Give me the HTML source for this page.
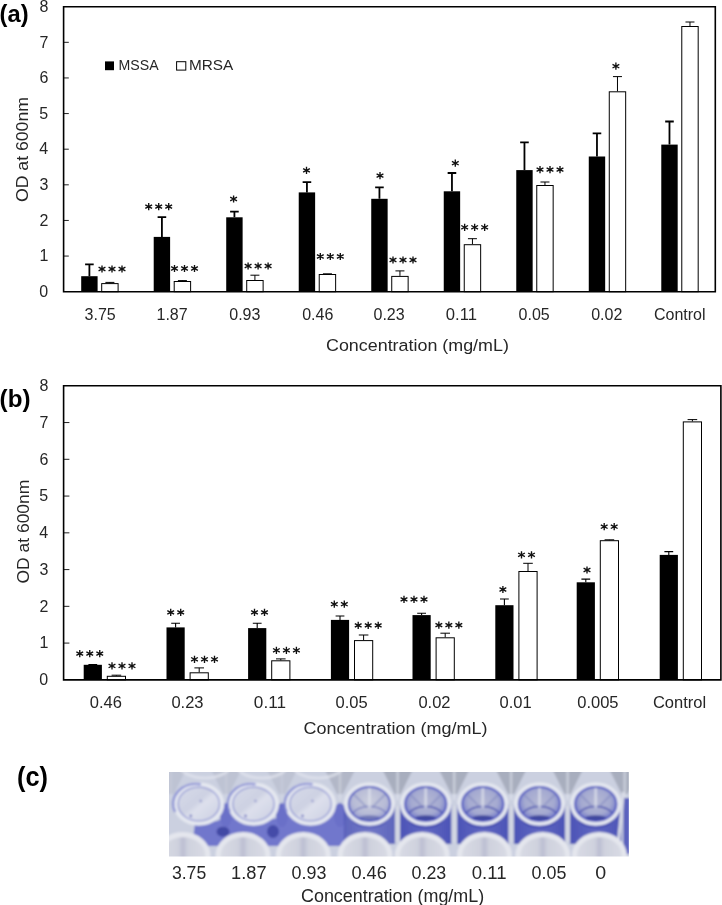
<!DOCTYPE html>
<html><head><meta charset="utf-8"><style>
html,body{margin:0;padding:0;background:#fff;}
svg{display:block;will-change:transform;}
text{font-family:"Liberation Sans",sans-serif;}
</style></head><body>
<svg width="722" height="905" viewBox="0 0 722 905">
<rect x="0" y="0" width="722" height="905" fill="#fff"/>
<rect x="81.20" y="276.20" width="16.40" height="15.50" fill="#000"/>
<path d="M89.40 276.20V264.40M85.10 264.40H93.70" stroke="#000" stroke-width="1.8" fill="none"/>
<rect x="101.70" y="283.60" width="16.40" height="8.10" fill="#fff" stroke="#000" stroke-width="1.0"/>
<path d="M109.90 283.10V282.40M105.40 282.40H114.40" stroke="#000" stroke-width="1.0" fill="none"/>
<rect x="153.71" y="236.90" width="16.40" height="54.80" fill="#000"/>
<path d="M161.91 236.90V217.20M157.61 217.20H166.21" stroke="#000" stroke-width="1.8" fill="none"/>
<rect x="174.21" y="281.50" width="16.40" height="10.20" fill="#fff" stroke="#000" stroke-width="1.0"/>
<path d="M182.41 281.00V280.60M177.91 280.60H186.91" stroke="#000" stroke-width="1.0" fill="none"/>
<rect x="226.22" y="217.30" width="16.40" height="74.40" fill="#000"/>
<path d="M234.42 217.30V211.60M230.12 211.60H238.72" stroke="#000" stroke-width="1.8" fill="none"/>
<rect x="246.72" y="280.50" width="16.40" height="11.20" fill="#fff" stroke="#000" stroke-width="1.0"/>
<path d="M254.92 280.00V275.20M250.42 275.20H259.42" stroke="#000" stroke-width="1.0" fill="none"/>
<rect x="298.73" y="192.40" width="16.40" height="99.30" fill="#000"/>
<path d="M306.93 192.40V182.20M302.63 182.20H311.23" stroke="#000" stroke-width="1.8" fill="none"/>
<rect x="319.23" y="274.50" width="16.40" height="17.20" fill="#fff" stroke="#000" stroke-width="1.0"/>
<path d="M322.93 273.80H331.93" stroke="#000" stroke-width="1.0" fill="none"/>
<rect x="371.24" y="198.80" width="16.40" height="92.90" fill="#000"/>
<path d="M379.44 198.80V187.40M375.14 187.40H383.74" stroke="#000" stroke-width="1.8" fill="none"/>
<rect x="391.74" y="276.40" width="16.40" height="15.30" fill="#fff" stroke="#000" stroke-width="1.0"/>
<path d="M399.94 275.90V270.90M395.44 270.90H404.44" stroke="#000" stroke-width="1.0" fill="none"/>
<rect x="443.75" y="191.30" width="16.40" height="100.40" fill="#000"/>
<path d="M451.95 191.30V173.00M447.65 173.00H456.25" stroke="#000" stroke-width="1.8" fill="none"/>
<rect x="464.25" y="244.70" width="16.40" height="47.00" fill="#fff" stroke="#000" stroke-width="1.0"/>
<path d="M472.45 244.20V238.70M467.95 238.70H476.95" stroke="#000" stroke-width="1.0" fill="none"/>
<rect x="516.26" y="170.10" width="16.40" height="121.60" fill="#000"/>
<path d="M524.46 170.10V142.30M520.16 142.30H528.76" stroke="#000" stroke-width="1.8" fill="none"/>
<rect x="536.76" y="185.50" width="16.40" height="106.20" fill="#fff" stroke="#000" stroke-width="1.0"/>
<path d="M544.96 185.00V182.00M540.46 182.00H549.46" stroke="#000" stroke-width="1.0" fill="none"/>
<rect x="588.77" y="156.50" width="16.40" height="135.20" fill="#000"/>
<path d="M596.97 156.50V133.40M592.67 133.40H601.27" stroke="#000" stroke-width="1.8" fill="none"/>
<rect x="609.27" y="91.80" width="16.40" height="199.90" fill="#fff" stroke="#000" stroke-width="1.0"/>
<path d="M617.47 91.30V76.60M612.97 76.60H621.97" stroke="#000" stroke-width="1.0" fill="none"/>
<rect x="661.28" y="144.60" width="16.40" height="147.10" fill="#000"/>
<path d="M669.48 144.60V121.50M665.18 121.50H673.78" stroke="#000" stroke-width="1.8" fill="none"/>
<rect x="681.78" y="26.50" width="16.40" height="265.20" fill="#fff" stroke="#000" stroke-width="1.0"/>
<path d="M689.98 26.00V22.00M685.48 22.00H694.48" stroke="#000" stroke-width="1.0" fill="none"/>
<path d="M63.60 256.07H68.80" stroke="#222" stroke-width="1" fill="none"/>
<path d="M63.60 220.45H68.80" stroke="#222" stroke-width="1" fill="none"/>
<path d="M63.60 184.82H68.80" stroke="#222" stroke-width="1" fill="none"/>
<path d="M63.60 149.20H68.80" stroke="#222" stroke-width="1" fill="none"/>
<path d="M63.60 113.57H68.80" stroke="#222" stroke-width="1" fill="none"/>
<path d="M63.60 77.95H68.80" stroke="#222" stroke-width="1" fill="none"/>
<path d="M63.60 42.32H68.80" stroke="#222" stroke-width="1" fill="none"/>
<path d="M63.60 291.70V6.70H715.30V291.70Z" stroke="#000" stroke-width="1.6" fill="none" stroke-linejoin="miter"/>
<path d="M102.00 265.42V272.58M98.60 267.19L105.40 270.81M98.60 270.81L105.40 267.19" stroke="#111" stroke-width="1.35" fill="none"/>
<path d="M112.00 265.42V272.58M108.60 267.19L115.40 270.81M108.60 270.81L115.40 267.19" stroke="#111" stroke-width="1.35" fill="none"/>
<path d="M122.00 265.42V272.58M118.60 267.19L125.40 270.81M118.60 270.81L125.40 267.19" stroke="#111" stroke-width="1.35" fill="none"/>
<path d="M148.70 203.02V210.18M145.30 204.79L152.10 208.41M145.30 208.41L152.10 204.79" stroke="#111" stroke-width="1.35" fill="none"/>
<path d="M158.70 203.02V210.18M155.30 204.79L162.10 208.41M155.30 208.41L162.10 204.79" stroke="#111" stroke-width="1.35" fill="none"/>
<path d="M168.70 203.02V210.18M165.30 204.79L172.10 208.41M165.30 208.41L172.10 204.79" stroke="#111" stroke-width="1.35" fill="none"/>
<path d="M174.50 264.92V272.08M171.10 266.69L177.90 270.31M171.10 270.31L177.90 266.69" stroke="#111" stroke-width="1.35" fill="none"/>
<path d="M184.50 264.92V272.08M181.10 266.69L187.90 270.31M181.10 270.31L187.90 266.69" stroke="#111" stroke-width="1.35" fill="none"/>
<path d="M194.50 264.92V272.08M191.10 266.69L197.90 270.31M191.10 270.31L197.90 266.69" stroke="#111" stroke-width="1.35" fill="none"/>
<path d="M233.60 195.42V202.58M230.20 197.19L237.00 200.81M230.20 200.81L237.00 197.19" stroke="#111" stroke-width="1.35" fill="none"/>
<path d="M248.10 262.42V269.58M244.70 264.19L251.50 267.81M244.70 267.81L251.50 264.19" stroke="#111" stroke-width="1.35" fill="none"/>
<path d="M258.10 262.42V269.58M254.70 264.19L261.50 267.81M254.70 267.81L261.50 264.19" stroke="#111" stroke-width="1.35" fill="none"/>
<path d="M268.10 262.42V269.58M264.70 264.19L271.50 267.81M264.70 267.81L271.50 264.19" stroke="#111" stroke-width="1.35" fill="none"/>
<path d="M306.50 166.82V173.98M303.10 168.59L309.90 172.21M303.10 172.21L309.90 168.59" stroke="#111" stroke-width="1.35" fill="none"/>
<path d="M320.30 252.92V260.08M316.90 254.69L323.70 258.31M316.90 258.31L323.70 254.69" stroke="#111" stroke-width="1.35" fill="none"/>
<path d="M330.30 252.92V260.08M326.90 254.69L333.70 258.31M326.90 258.31L333.70 254.69" stroke="#111" stroke-width="1.35" fill="none"/>
<path d="M340.30 252.92V260.08M336.90 254.69L343.70 258.31M336.90 258.31L343.70 254.69" stroke="#111" stroke-width="1.35" fill="none"/>
<path d="M380.00 172.02V179.18M376.60 173.79L383.40 177.41M376.60 177.41L383.40 173.79" stroke="#111" stroke-width="1.35" fill="none"/>
<path d="M393.00 256.42V263.58M389.60 258.19L396.40 261.81M389.60 261.81L396.40 258.19" stroke="#111" stroke-width="1.35" fill="none"/>
<path d="M403.00 256.42V263.58M399.60 258.19L406.40 261.81M399.60 261.81L406.40 258.19" stroke="#111" stroke-width="1.35" fill="none"/>
<path d="M413.00 256.42V263.58M409.60 258.19L416.40 261.81M409.60 261.81L416.40 258.19" stroke="#111" stroke-width="1.35" fill="none"/>
<path d="M455.30 159.62V166.78M451.90 161.39L458.70 165.01M451.90 165.01L458.70 161.39" stroke="#111" stroke-width="1.35" fill="none"/>
<path d="M464.65 223.72V230.88M461.25 225.49L468.05 229.11M461.25 229.11L468.05 225.49" stroke="#111" stroke-width="1.35" fill="none"/>
<path d="M474.65 223.72V230.88M471.25 225.49L478.05 229.11M471.25 229.11L478.05 225.49" stroke="#111" stroke-width="1.35" fill="none"/>
<path d="M484.65 223.72V230.88M481.25 225.49L488.05 229.11M481.25 229.11L488.05 225.49" stroke="#111" stroke-width="1.35" fill="none"/>
<path d="M540.00 166.02V173.18M536.60 167.79L543.40 171.41M536.60 171.41L543.40 167.79" stroke="#111" stroke-width="1.35" fill="none"/>
<path d="M550.00 166.02V173.18M546.60 167.79L553.40 171.41M546.60 171.41L553.40 167.79" stroke="#111" stroke-width="1.35" fill="none"/>
<path d="M560.00 166.02V173.18M556.60 167.79L563.40 171.41M556.60 171.41L563.40 167.79" stroke="#111" stroke-width="1.35" fill="none"/>
<path d="M615.90 62.62V69.78M612.50 64.39L619.30 68.01M612.50 68.01L619.30 64.39" stroke="#111" stroke-width="1.35" fill="none"/>
<text x="39.33" y="296.90" font-size="16.00" font-weight="normal" fill="#262626" textLength="8.90" lengthAdjust="spacingAndGlyphs" >0</text>
<text x="39.48" y="261.27" font-size="16.00" font-weight="normal" fill="#262626" textLength="8.90" lengthAdjust="spacingAndGlyphs" >1</text>
<text x="39.51" y="225.65" font-size="16.00" font-weight="normal" fill="#262626" textLength="8.90" lengthAdjust="spacingAndGlyphs" >2</text>
<text x="39.40" y="190.02" font-size="16.00" font-weight="normal" fill="#262626" textLength="8.90" lengthAdjust="spacingAndGlyphs" >3</text>
<text x="39.17" y="154.40" font-size="16.00" font-weight="normal" fill="#262626" textLength="8.90" lengthAdjust="spacingAndGlyphs" >4</text>
<text x="39.37" y="118.77" font-size="16.00" font-weight="normal" fill="#262626" textLength="8.90" lengthAdjust="spacingAndGlyphs" >5</text>
<text x="39.40" y="83.15" font-size="16.00" font-weight="normal" fill="#262626" textLength="8.90" lengthAdjust="spacingAndGlyphs" >6</text>
<text x="39.51" y="47.52" font-size="16.00" font-weight="normal" fill="#262626" textLength="8.90" lengthAdjust="spacingAndGlyphs" >7</text>
<text x="39.40" y="11.90" font-size="16.00" font-weight="normal" fill="#262626" textLength="8.90" lengthAdjust="spacingAndGlyphs" >8</text>
<text x="84.61" y="319.70" font-size="16.00" font-weight="normal" fill="#262626" textLength="31.14" lengthAdjust="spacingAndGlyphs" >3.75</text>
<text x="156.52" y="319.70" font-size="16.00" font-weight="normal" fill="#262626" textLength="31.14" lengthAdjust="spacingAndGlyphs" >1.87</text>
<text x="229.27" y="319.70" font-size="16.00" font-weight="normal" fill="#262626" textLength="31.14" lengthAdjust="spacingAndGlyphs" >0.93</text>
<text x="302.22" y="319.70" font-size="16.00" font-weight="normal" fill="#262626" textLength="31.14" lengthAdjust="spacingAndGlyphs" >0.46</text>
<text x="373.52" y="319.70" font-size="16.00" font-weight="normal" fill="#262626" textLength="31.14" lengthAdjust="spacingAndGlyphs" >0.23</text>
<text x="445.86" y="319.70" font-size="16.00" font-weight="normal" fill="#262626" textLength="31.14" lengthAdjust="spacingAndGlyphs" >0.11</text>
<text x="518.60" y="319.70" font-size="16.00" font-weight="normal" fill="#262626" textLength="31.14" lengthAdjust="spacingAndGlyphs" >0.05</text>
<text x="591.22" y="319.70" font-size="16.00" font-weight="normal" fill="#262626" textLength="31.14" lengthAdjust="spacingAndGlyphs" >0.02</text>
<text x="653.94" y="319.70" font-size="16.00" font-weight="normal" fill="#262626" textLength="51.58" lengthAdjust="spacingAndGlyphs" >Control</text>
<rect x="83.70" y="664.80" width="18.20" height="15.05" fill="#000"/>
<path d="M92.80 664.80V664.60M88.40 664.60H97.20" stroke="#000" stroke-width="1.1" fill="none"/>
<rect x="107.30" y="676.30" width="18.20" height="3.55" fill="#fff" stroke="#000" stroke-width="1.0"/>
<path d="M116.40 675.80V675.20M111.60 675.20H121.20" stroke="#000" stroke-width="1.0" fill="none"/>
<rect x="166.50" y="627.40" width="18.20" height="52.45" fill="#000"/>
<path d="M175.60 627.40V623.20M171.20 623.20H180.00" stroke="#000" stroke-width="1.1" fill="none"/>
<rect x="190.10" y="672.80" width="18.20" height="7.05" fill="#fff" stroke="#000" stroke-width="1.0"/>
<path d="M199.20 672.30V667.90M194.40 667.90H204.00" stroke="#000" stroke-width="1.0" fill="none"/>
<rect x="248.10" y="628.10" width="18.20" height="51.75" fill="#000"/>
<path d="M257.20 628.10V623.20M252.80 623.20H261.60" stroke="#000" stroke-width="1.1" fill="none"/>
<rect x="271.70" y="660.80" width="18.20" height="19.05" fill="#fff" stroke="#000" stroke-width="1.0"/>
<path d="M280.80 660.30V658.90M276.00 658.90H285.60" stroke="#000" stroke-width="1.0" fill="none"/>
<rect x="330.90" y="619.90" width="18.20" height="59.95" fill="#000"/>
<path d="M340.00 619.90V616.00M335.60 616.00H344.40" stroke="#000" stroke-width="1.1" fill="none"/>
<rect x="354.50" y="640.60" width="18.20" height="39.25" fill="#fff" stroke="#000" stroke-width="1.0"/>
<path d="M363.60 640.10V635.00M358.80 635.00H368.40" stroke="#000" stroke-width="1.0" fill="none"/>
<rect x="412.50" y="615.10" width="18.20" height="64.75" fill="#000"/>
<path d="M421.60 615.10V613.20M417.20 613.20H426.00" stroke="#000" stroke-width="1.1" fill="none"/>
<rect x="436.10" y="637.80" width="18.20" height="42.05" fill="#fff" stroke="#000" stroke-width="1.0"/>
<path d="M445.20 637.30V633.20M440.40 633.20H450.00" stroke="#000" stroke-width="1.0" fill="none"/>
<rect x="495.30" y="605.20" width="18.20" height="74.65" fill="#000"/>
<path d="M504.40 605.20V599.00M500.00 599.00H508.80" stroke="#000" stroke-width="1.1" fill="none"/>
<rect x="518.90" y="571.50" width="18.20" height="108.35" fill="#fff" stroke="#000" stroke-width="1.0"/>
<path d="M528.00 571.00V563.30M523.20 563.30H532.80" stroke="#000" stroke-width="1.0" fill="none"/>
<rect x="576.70" y="582.30" width="18.20" height="97.55" fill="#000"/>
<path d="M585.80 582.30V579.10M581.40 579.10H590.20" stroke="#000" stroke-width="1.1" fill="none"/>
<rect x="600.30" y="540.70" width="18.20" height="139.15" fill="#fff" stroke="#000" stroke-width="1.0"/>
<path d="M609.40 540.20V539.80M604.60 539.80H614.20" stroke="#000" stroke-width="1.0" fill="none"/>
<rect x="659.70" y="554.90" width="18.20" height="124.95" fill="#000"/>
<path d="M668.80 554.90V551.60M664.40 551.60H673.20" stroke="#000" stroke-width="1.1" fill="none"/>
<rect x="683.30" y="421.90" width="18.20" height="257.95" fill="#fff" stroke="#000" stroke-width="1.0"/>
<path d="M692.40 421.40V419.60M687.60 419.60H697.20" stroke="#000" stroke-width="1.0" fill="none"/>
<path d="M63.60 643.09H69.40" stroke="#222" stroke-width="1" fill="none"/>
<path d="M63.60 606.34H69.40" stroke="#222" stroke-width="1" fill="none"/>
<path d="M63.60 569.58H69.40" stroke="#222" stroke-width="1" fill="none"/>
<path d="M63.60 532.83H69.40" stroke="#222" stroke-width="1" fill="none"/>
<path d="M63.60 496.07H69.40" stroke="#222" stroke-width="1" fill="none"/>
<path d="M63.60 459.31H69.40" stroke="#222" stroke-width="1" fill="none"/>
<path d="M63.60 422.56H69.40" stroke="#222" stroke-width="1" fill="none"/>
<path d="M63.60 679.85V385.80H720.90V679.85Z" stroke="#000" stroke-width="1.6" fill="none" stroke-linejoin="miter"/>
<path d="M79.75 650.02V657.18M76.35 651.79L83.15 655.41M76.35 655.41L83.15 651.79" stroke="#111" stroke-width="1.35" fill="none"/>
<path d="M89.75 650.02V657.18M86.35 651.79L93.15 655.41M86.35 655.41L93.15 651.79" stroke="#111" stroke-width="1.35" fill="none"/>
<path d="M99.75 650.02V657.18M96.35 651.79L103.15 655.41M96.35 655.41L103.15 651.79" stroke="#111" stroke-width="1.35" fill="none"/>
<path d="M112.00 662.37V669.53M108.60 664.14L115.40 667.76M108.60 667.76L115.40 664.14" stroke="#111" stroke-width="1.35" fill="none"/>
<path d="M122.00 662.37V669.53M118.60 664.14L125.40 667.76M118.60 667.76L125.40 664.14" stroke="#111" stroke-width="1.35" fill="none"/>
<path d="M132.00 662.37V669.53M128.60 664.14L135.40 667.76M128.60 667.76L135.40 664.14" stroke="#111" stroke-width="1.35" fill="none"/>
<path d="M170.70 608.82V615.98M167.30 610.59L174.10 614.21M167.30 614.21L174.10 610.59" stroke="#111" stroke-width="1.35" fill="none"/>
<path d="M180.70 608.82V615.98M177.30 610.59L184.10 614.21M177.30 614.21L184.10 610.59" stroke="#111" stroke-width="1.35" fill="none"/>
<path d="M194.50 655.72V662.88M191.10 657.49L197.90 661.11M191.10 661.11L197.90 657.49" stroke="#111" stroke-width="1.35" fill="none"/>
<path d="M204.50 655.72V662.88M201.10 657.49L207.90 661.11M201.10 661.11L207.90 657.49" stroke="#111" stroke-width="1.35" fill="none"/>
<path d="M214.50 655.72V662.88M211.10 657.49L217.90 661.11M211.10 661.11L217.90 657.49" stroke="#111" stroke-width="1.35" fill="none"/>
<path d="M254.50 608.82V615.98M251.10 610.59L257.90 614.21M251.10 614.21L257.90 610.59" stroke="#111" stroke-width="1.35" fill="none"/>
<path d="M264.50 608.82V615.98M261.10 610.59L267.90 614.21M261.10 614.21L267.90 610.59" stroke="#111" stroke-width="1.35" fill="none"/>
<path d="M276.40 646.72V653.88M273.00 648.49L279.80 652.11M273.00 652.11L279.80 648.49" stroke="#111" stroke-width="1.35" fill="none"/>
<path d="M286.40 646.72V653.88M283.00 648.49L289.80 652.11M283.00 652.11L289.80 648.49" stroke="#111" stroke-width="1.35" fill="none"/>
<path d="M296.40 646.72V653.88M293.00 648.49L299.80 652.11M293.00 652.11L299.80 648.49" stroke="#111" stroke-width="1.35" fill="none"/>
<path d="M334.30 600.62V607.78M330.90 602.39L337.70 606.01M330.90 606.01L337.70 602.39" stroke="#111" stroke-width="1.35" fill="none"/>
<path d="M344.30 600.62V607.78M340.90 602.39L347.70 606.01M340.90 606.01L347.70 602.39" stroke="#111" stroke-width="1.35" fill="none"/>
<path d="M358.20 621.82V628.98M354.80 623.59L361.60 627.21M354.80 627.21L361.60 623.59" stroke="#111" stroke-width="1.35" fill="none"/>
<path d="M368.20 621.82V628.98M364.80 623.59L371.60 627.21M364.80 627.21L371.60 623.59" stroke="#111" stroke-width="1.35" fill="none"/>
<path d="M378.20 621.82V628.98M374.80 623.59L381.60 627.21M374.80 627.21L381.60 623.59" stroke="#111" stroke-width="1.35" fill="none"/>
<path d="M404.00 595.82V602.98M400.60 597.59L407.40 601.21M400.60 601.21L407.40 597.59" stroke="#111" stroke-width="1.35" fill="none"/>
<path d="M414.00 595.82V602.98M410.60 597.59L417.40 601.21M410.60 601.21L417.40 597.59" stroke="#111" stroke-width="1.35" fill="none"/>
<path d="M424.00 595.82V602.98M420.60 597.59L427.40 601.21M420.60 601.21L427.40 597.59" stroke="#111" stroke-width="1.35" fill="none"/>
<path d="M438.85 621.52V628.68M435.45 623.29L442.25 626.91M435.45 626.91L442.25 623.29" stroke="#111" stroke-width="1.35" fill="none"/>
<path d="M448.85 621.52V628.68M445.45 623.29L452.25 626.91M445.45 626.91L452.25 623.29" stroke="#111" stroke-width="1.35" fill="none"/>
<path d="M458.85 621.52V628.68M455.45 623.29L462.25 626.91M455.45 626.91L462.25 623.29" stroke="#111" stroke-width="1.35" fill="none"/>
<path d="M502.90 585.92V593.08M499.50 587.69L506.30 591.31M499.50 591.31L506.30 587.69" stroke="#111" stroke-width="1.35" fill="none"/>
<path d="M521.50 551.22V558.38M518.10 552.99L524.90 556.61M518.10 556.61L524.90 552.99" stroke="#111" stroke-width="1.35" fill="none"/>
<path d="M531.50 551.22V558.38M528.10 552.99L534.90 556.61M528.10 556.61L534.90 552.99" stroke="#111" stroke-width="1.35" fill="none"/>
<path d="M587.00 566.42V573.58M583.60 568.19L590.40 571.81M583.60 571.81L590.40 568.19" stroke="#111" stroke-width="1.35" fill="none"/>
<path d="M604.20 523.12V530.28M600.80 524.89L607.60 528.51M600.80 528.51L607.60 524.89" stroke="#111" stroke-width="1.35" fill="none"/>
<path d="M614.20 523.12V530.28M610.80 524.89L617.60 528.51M610.80 528.51L617.60 524.89" stroke="#111" stroke-width="1.35" fill="none"/>
<text x="39.33" y="685.05" font-size="16.00" font-weight="normal" fill="#262626" textLength="8.90" lengthAdjust="spacingAndGlyphs" >0</text>
<text x="39.48" y="648.29" font-size="16.00" font-weight="normal" fill="#262626" textLength="8.90" lengthAdjust="spacingAndGlyphs" >1</text>
<text x="39.51" y="611.54" font-size="16.00" font-weight="normal" fill="#262626" textLength="8.90" lengthAdjust="spacingAndGlyphs" >2</text>
<text x="39.40" y="574.78" font-size="16.00" font-weight="normal" fill="#262626" textLength="8.90" lengthAdjust="spacingAndGlyphs" >3</text>
<text x="39.17" y="538.03" font-size="16.00" font-weight="normal" fill="#262626" textLength="8.90" lengthAdjust="spacingAndGlyphs" >4</text>
<text x="39.37" y="501.27" font-size="16.00" font-weight="normal" fill="#262626" textLength="8.90" lengthAdjust="spacingAndGlyphs" >5</text>
<text x="39.40" y="464.51" font-size="16.00" font-weight="normal" fill="#262626" textLength="8.90" lengthAdjust="spacingAndGlyphs" >6</text>
<text x="39.51" y="427.76" font-size="16.00" font-weight="normal" fill="#262626" textLength="8.90" lengthAdjust="spacingAndGlyphs" >7</text>
<text x="39.40" y="391.00" font-size="16.00" font-weight="normal" fill="#262626" textLength="8.90" lengthAdjust="spacingAndGlyphs" >8</text>
<text x="89.73" y="708.00" font-size="16.50" font-weight="normal" fill="#262626" textLength="32.11" lengthAdjust="spacingAndGlyphs" >0.46</text>
<text x="171.38" y="708.00" font-size="16.50" font-weight="normal" fill="#262626" textLength="32.11" lengthAdjust="spacingAndGlyphs" >0.23</text>
<text x="253.87" y="708.00" font-size="16.50" font-weight="normal" fill="#262626" textLength="32.11" lengthAdjust="spacingAndGlyphs" >0.11</text>
<text x="335.62" y="708.00" font-size="16.50" font-weight="normal" fill="#262626" textLength="32.11" lengthAdjust="spacingAndGlyphs" >0.05</text>
<text x="418.39" y="708.00" font-size="16.50" font-weight="normal" fill="#262626" textLength="32.11" lengthAdjust="spacingAndGlyphs" >0.02</text>
<text x="499.62" y="708.00" font-size="16.50" font-weight="normal" fill="#262626" textLength="32.11" lengthAdjust="spacingAndGlyphs" >0.01</text>
<text x="577.28" y="708.00" font-size="16.50" font-weight="normal" fill="#262626" textLength="41.29" lengthAdjust="spacingAndGlyphs" >0.005</text>
<text x="652.89" y="708.00" font-size="16.50" font-weight="normal" fill="#262626" textLength="53.19" lengthAdjust="spacingAndGlyphs" >Control</text>
<text x="-0.38" y="22.00" font-size="24.50" font-weight="bold" fill="#000" textLength="28.96" lengthAdjust="spacingAndGlyphs" >(a)</text>
<text x="-0.41" y="406.60" font-size="24.50" font-weight="bold" fill="#000" textLength="30.91" lengthAdjust="spacingAndGlyphs" >(b)</text>
<text x="17.04" y="786.20" font-size="27.60" font-weight="bold" fill="#000" textLength="30.92" lengthAdjust="spacingAndGlyphs" >(c)</text>
<text transform="translate(27.73 202.04) rotate(-90)" x="0" y="0" font-size="16.8" fill="#262626" textLength="105.00" lengthAdjust="spacingAndGlyphs">OD at 600nm</text>
<text transform="translate(28.98 583.53) rotate(-90)" x="0" y="0" font-size="16.8" fill="#262626" textLength="103.88" lengthAdjust="spacingAndGlyphs">OD at 600nm</text>
<text x="325.99" y="351.40" font-size="17.40" font-weight="normal" fill="#262626" textLength="182.92" lengthAdjust="spacingAndGlyphs" >Concentration (mg/mL)</text>
<text x="303.59" y="734.20" font-size="17.40" font-weight="normal" fill="#262626" textLength="183.83" lengthAdjust="spacingAndGlyphs" >Concentration (mg/mL)</text>
<rect x="105" y="61.4" width="9" height="8.8" fill="#000"/>
<text x="118.54" y="69.70" font-size="15.10" font-weight="normal" fill="#262626" textLength="40.09" lengthAdjust="spacingAndGlyphs" >MSSA</text>
<rect x="176.6" y="61.7" width="9.2" height="8.4" fill="#fff" stroke="#000" stroke-width="1"/>
<text x="188.94" y="69.70" font-size="15.10" font-weight="normal" fill="#262626" textLength="44.29" lengthAdjust="spacingAndGlyphs" >MRSA</text>
<text x="171.93" y="878.90" font-size="17.50" font-weight="normal" fill="#262626" textLength="34.31" lengthAdjust="spacingAndGlyphs" >3.75</text>
<text x="231.11" y="878.90" font-size="17.50" font-weight="normal" fill="#262626" textLength="35.51" lengthAdjust="spacingAndGlyphs" >1.87</text>
<text x="291.60" y="878.90" font-size="17.50" font-weight="normal" fill="#262626" textLength="34.78" lengthAdjust="spacingAndGlyphs" >0.93</text>
<text x="351.49" y="878.90" font-size="17.50" font-weight="normal" fill="#262626" textLength="35.31" lengthAdjust="spacingAndGlyphs" >0.46</text>
<text x="411.60" y="878.90" font-size="17.50" font-weight="normal" fill="#262626" textLength="34.68" lengthAdjust="spacingAndGlyphs" >0.23</text>
<text x="471.80" y="878.90" font-size="17.50" font-weight="normal" fill="#262626" textLength="34.77" lengthAdjust="spacingAndGlyphs" >0.11</text>
<text x="531.60" y="878.90" font-size="17.50" font-weight="normal" fill="#262626" textLength="34.75" lengthAdjust="spacingAndGlyphs" >0.05</text>
<text x="595.33" y="878.90" font-size="17.50" font-weight="normal" fill="#262626" textLength="10.94" lengthAdjust="spacingAndGlyphs" >0</text>
<text x="300.99" y="901.50" font-size="17.60" font-weight="normal" fill="#262626" textLength="183.22" lengthAdjust="spacingAndGlyphs" >Concentration (mg/mL)</text>
<defs>
<clipPath id="pc"><rect x="169.0" y="772.0" width="459.79999999999995" height="84.60000000000002"/></clipPath>
<filter id="bl" x="-2%" y="-10%" width="104%" height="120%"><feGaussianBlur stdDeviation="0.8"/></filter>
<linearGradient id="inL" x1="0" y1="0" x2="1" y2="1"><stop offset="0" stop-color="#d8dcea"/><stop offset="0.45" stop-color="#cdd1e2"/><stop offset="0.55" stop-color="#dde0ec"/><stop offset="1" stop-color="#c8cce0"/></linearGradient>
<radialGradient id="inD" cx="0.5" cy="0.45" r="0.58"><stop offset="0" stop-color="#b4b8d4"/><stop offset="0.55" stop-color="#a4a9d0"/><stop offset="0.84" stop-color="#7077c8"/><stop offset="1" stop-color="#4f57c0"/></radialGradient>
<radialGradient id="inM" cx="0.5" cy="0.42" r="0.6"><stop offset="0" stop-color="#cacddc"/><stop offset="0.6" stop-color="#b6bad6"/><stop offset="1" stop-color="#7a80c8"/></radialGradient>
<linearGradient id="cyl" x1="0" y1="0" x2="1" y2="0"><stop offset="0" stop-color="#4c54b6"/><stop offset="0.5" stop-color="#6067c2"/><stop offset="1" stop-color="#4c54b6"/></linearGradient>
<linearGradient id="lowin" x1="0" y1="0" x2="1" y2="0"><stop offset="0" stop-color="#dadce5"/><stop offset="0.4" stop-color="#cfd2de"/><stop offset="0.5" stop-color="#bcbed2"/><stop offset="0.6" stop-color="#cfd2de"/><stop offset="1" stop-color="#dadce5"/></linearGradient>
</defs>
<g clip-path="url(#pc)"><g filter="url(#bl)">
<rect x="164.0" y="767.0" width="469.79999999999995" height="94.60000000000002" fill="#cbd0e0"/>
<path d="M155.8 770L167.8 794L173.8 794L185.8 770Z" fill="#8c92a2" opacity="0.20"/>
<path d="M170.8 770V800" stroke="#e2e5ee" stroke-width="2.5" opacity="0.20"/>
<path d="M211.2 770L223.2 794L229.2 794L241.2 770Z" fill="#8c92a2" opacity="0.20"/>
<path d="M226.2 770V800" stroke="#e2e5ee" stroke-width="2.5" opacity="0.20"/>
<path d="M267.0 770L279.0 794L285.0 794L297.0 770Z" fill="#8c92a2" opacity="0.20"/>
<path d="M282.0 770V800" stroke="#e2e5ee" stroke-width="2.5" opacity="0.20"/>
<path d="M325.0 770L337.0 794L343.0 794L355.0 770Z" fill="#8c92a2" opacity="0.40"/>
<path d="M340.0 770V800" stroke="#e2e5ee" stroke-width="2.5" opacity="0.40"/>
<path d="M382.6 770L394.6 794L400.6 794L412.6 770Z" fill="#8c92a2" opacity="0.55"/>
<path d="M397.6 770V800" stroke="#e2e5ee" stroke-width="2.5" opacity="0.55"/>
<path d="M439.2 770L451.2 794L457.2 794L469.2 770Z" fill="#8c92a2" opacity="0.55"/>
<path d="M454.2 770V800" stroke="#e2e5ee" stroke-width="2.5" opacity="0.55"/>
<path d="M496.1 770L508.1 794L514.1 794L526.1 770Z" fill="#8c92a2" opacity="0.55"/>
<path d="M511.1 770V800" stroke="#e2e5ee" stroke-width="2.5" opacity="0.55"/>
<path d="M552.6 770L564.6 794L570.6 794L582.6 770Z" fill="#8c92a2" opacity="0.55"/>
<path d="M567.6 770V800" stroke="#e2e5ee" stroke-width="2.5" opacity="0.55"/>
<path d="M609.7 770L621.7 794L627.7 794L639.7 770Z" fill="#8c92a2" opacity="0.55"/>
<path d="M624.7 770V800" stroke="#e2e5ee" stroke-width="2.5" opacity="0.55"/>
<ellipse cx="205" cy="764" rx="26" ry="14" fill="none" stroke="#e2e5ee" stroke-width="3" opacity="0.7"/>
<ellipse cx="262" cy="764" rx="26" ry="14" fill="none" stroke="#e2e5ee" stroke-width="3" opacity="0.7"/>
<ellipse cx="318" cy="764" rx="26" ry="14" fill="none" stroke="#e2e5ee" stroke-width="3" opacity="0.7"/>
<path d="M196 816 Q210 826 224 818 Q240 810 258 822 Q280 818 300 812 L345 812 L345 846 L192 846 Z" fill="#7177cc"/>
<ellipse cx="226.0" cy="815" rx="6" ry="12" fill="#6a70c8"/>
<ellipse cx="282.0" cy="815" rx="6" ry="12" fill="#6a70c8"/>
<ellipse cx="340.0" cy="815" rx="6" ry="12" fill="#6a70c8"/>
<ellipse cx="223" cy="831.7" rx="6.5" ry="5" fill="#4248a4"/>
<ellipse cx="273" cy="831.5" rx="6" ry="6.5" fill="#454ca8"/>
<rect x="343.9" y="804.0" width="51.2" height="40" fill="url(#cyl)" opacity="0.85"/>
<rect x="400.1" y="804.0" width="51.2" height="40" fill="url(#cyl)" opacity="1"/>
<rect x="457.2" y="804.0" width="51.2" height="40" fill="url(#cyl)" opacity="1"/>
<rect x="513.9" y="804.0" width="51.2" height="40" fill="url(#cyl)" opacity="1"/>
<rect x="570.1" y="804.0" width="51.2" height="40" fill="url(#cyl)" opacity="1"/>
<rect x="395.4" y="806" width="4.4" height="36" fill="#d2d6e2"/>
<rect x="452.1" y="806" width="4.4" height="36" fill="#d2d6e2"/>
<rect x="508.9" y="806" width="4.4" height="36" fill="#d2d6e2"/>
<rect x="565.4" y="806" width="4.4" height="36" fill="#d2d6e2"/>
<rect x="623.5" y="798" width="8" height="56" fill="url(#cyl)"/>
<path d="M622 792 L625 792 L619 850 L616 850 Z" fill="#d8dbe6"/>
<ellipse cx="198.8" cy="804.0" rx="23.5" ry="19.7" fill="url(#inL)"/>
<circle cx="190.8" cy="816.0" r="1.4" fill="#5a60b8" opacity="0.7"/>
<circle cx="200.8" cy="801.0" r="1.2" fill="#6a70c0" opacity="0.6"/>
<ellipse cx="198.8" cy="804.0" rx="23.3" ry="19.5" fill="none" stroke="#e4e7ef" stroke-width="4.6"/>
<ellipse cx="198.8" cy="804.0" rx="20.7" ry="16.9" fill="none" stroke="#6168c6" stroke-width="1.3" opacity="0.55"/>
<path d="M175.2 812.0A23.6 19.8 0 0 1 200.8 784.2" fill="none" stroke="#7a80d0" stroke-width="2.4" opacity="0.75"/>
<ellipse cx="253.5" cy="804.0" rx="23.5" ry="19.7" fill="url(#inL)"/>
<circle cx="245.5" cy="816.0" r="1.4" fill="#5a60b8" opacity="0.7"/>
<circle cx="255.5" cy="801.0" r="1.2" fill="#6a70c0" opacity="0.6"/>
<ellipse cx="253.5" cy="804.0" rx="23.3" ry="19.5" fill="none" stroke="#e4e7ef" stroke-width="4.6"/>
<ellipse cx="253.5" cy="804.0" rx="20.7" ry="16.9" fill="none" stroke="#6168c6" stroke-width="1.3" opacity="0.55"/>
<path d="M229.9 812.0A23.6 19.8 0 0 1 255.5 784.2" fill="none" stroke="#7a80d0" stroke-width="2.4" opacity="0.75"/>
<ellipse cx="310.5" cy="804.0" rx="23.5" ry="19.7" fill="url(#inL)"/>
<circle cx="302.5" cy="816.0" r="1.4" fill="#5a60b8" opacity="0.7"/>
<circle cx="312.5" cy="801.0" r="1.2" fill="#6a70c0" opacity="0.6"/>
<ellipse cx="310.5" cy="804.0" rx="23.3" ry="19.5" fill="none" stroke="#e4e7ef" stroke-width="4.6"/>
<ellipse cx="310.5" cy="804.0" rx="20.7" ry="16.9" fill="none" stroke="#6168c6" stroke-width="1.3" opacity="0.55"/>
<path d="M286.9 812.0A23.6 19.8 0 0 1 312.5 784.2" fill="none" stroke="#7a80d0" stroke-width="2.4" opacity="0.75"/>
<ellipse cx="369.5" cy="804.0" rx="23.5" ry="19.7" fill="url(#inM)"/>
<ellipse cx="369.5" cy="818.5" rx="11.5" ry="3.2" fill="#343b96" opacity="0.45"/>
<ellipse cx="369.5" cy="817.0" rx="17.9" ry="10.5" fill="none" stroke="#3c43aa" stroke-width="1.3" opacity="0.45"/>
<path d="M369.5 786.0V808.0" stroke="#dfe2ec" stroke-width="2.6" opacity="0.75"/>
<path d="M352.5 793.0L366.5 807.0M386.5 793.0L372.5 807.0" stroke="#7d84be" stroke-width="1.8" opacity="0.5"/>
<ellipse cx="369.5" cy="804.0" rx="23.3" ry="19.5" fill="none" stroke="#e4e7ef" stroke-width="4.6"/>
<ellipse cx="369.5" cy="804.0" rx="20.7" ry="16.9" fill="none" stroke="#4a52c0" stroke-width="2.0" opacity="0.85"/>
<ellipse cx="425.7" cy="804.0" rx="23.5" ry="19.7" fill="url(#inD)"/>
<ellipse cx="425.7" cy="818.5" rx="11.5" ry="3.2" fill="#343b96" opacity="0.85"/>
<ellipse cx="425.7" cy="817.0" rx="17.9" ry="10.5" fill="none" stroke="#3c43aa" stroke-width="1.3" opacity="0.85"/>
<path d="M425.7 786.0V808.0" stroke="#dfe2ec" stroke-width="2.6" opacity="0.75"/>
<path d="M408.7 793.0L422.7 807.0M442.7 793.0L428.7 807.0" stroke="#7d84be" stroke-width="1.8" opacity="0.5"/>
<ellipse cx="425.7" cy="804.0" rx="23.3" ry="19.5" fill="none" stroke="#e4e7ef" stroke-width="4.6"/>
<ellipse cx="425.7" cy="804.0" rx="20.7" ry="16.9" fill="none" stroke="#4a52c0" stroke-width="2.0" opacity="0.85"/>
<ellipse cx="482.8" cy="804.0" rx="23.5" ry="19.7" fill="url(#inD)"/>
<ellipse cx="482.8" cy="818.5" rx="11.5" ry="3.2" fill="#343b96" opacity="0.85"/>
<ellipse cx="482.8" cy="817.0" rx="17.9" ry="10.5" fill="none" stroke="#3c43aa" stroke-width="1.3" opacity="0.85"/>
<path d="M482.8 786.0V808.0" stroke="#dfe2ec" stroke-width="2.6" opacity="0.75"/>
<path d="M465.8 793.0L479.8 807.0M499.8 793.0L485.8 807.0" stroke="#7d84be" stroke-width="1.8" opacity="0.5"/>
<ellipse cx="482.8" cy="804.0" rx="23.3" ry="19.5" fill="none" stroke="#e4e7ef" stroke-width="4.6"/>
<ellipse cx="482.8" cy="804.0" rx="20.7" ry="16.9" fill="none" stroke="#4a52c0" stroke-width="2.0" opacity="0.85"/>
<ellipse cx="539.5" cy="804.0" rx="23.5" ry="19.7" fill="url(#inD)"/>
<ellipse cx="539.5" cy="818.5" rx="11.5" ry="3.2" fill="#343b96" opacity="0.85"/>
<ellipse cx="539.5" cy="817.0" rx="17.9" ry="10.5" fill="none" stroke="#3c43aa" stroke-width="1.3" opacity="0.85"/>
<path d="M539.5 786.0V808.0" stroke="#dfe2ec" stroke-width="2.6" opacity="0.75"/>
<path d="M522.5 793.0L536.5 807.0M556.5 793.0L542.5 807.0" stroke="#7d84be" stroke-width="1.8" opacity="0.5"/>
<ellipse cx="539.5" cy="804.0" rx="23.3" ry="19.5" fill="none" stroke="#e4e7ef" stroke-width="4.6"/>
<ellipse cx="539.5" cy="804.0" rx="20.7" ry="16.9" fill="none" stroke="#4a52c0" stroke-width="2.0" opacity="0.85"/>
<ellipse cx="595.7" cy="804.0" rx="23.5" ry="19.7" fill="url(#inD)"/>
<ellipse cx="595.7" cy="818.5" rx="11.5" ry="3.2" fill="#343b96" opacity="0.85"/>
<ellipse cx="595.7" cy="817.0" rx="17.9" ry="10.5" fill="none" stroke="#3c43aa" stroke-width="1.3" opacity="0.85"/>
<path d="M595.7 786.0V808.0" stroke="#dfe2ec" stroke-width="2.6" opacity="0.75"/>
<path d="M578.7 793.0L592.7 807.0M612.7 793.0L598.7 807.0" stroke="#7d84be" stroke-width="1.8" opacity="0.5"/>
<ellipse cx="595.7" cy="804.0" rx="23.3" ry="19.5" fill="none" stroke="#e4e7ef" stroke-width="4.6"/>
<ellipse cx="595.7" cy="804.0" rx="20.7" ry="16.9" fill="none" stroke="#4a52c0" stroke-width="2.0" opacity="0.85"/>
<ellipse cx="183.0" cy="855.5" rx="24.9" ry="20.9" fill="url(#lowin)" stroke="#e4e6ed" stroke-width="5.2"/>
<ellipse cx="243.0" cy="855.5" rx="24.9" ry="20.9" fill="url(#lowin)" stroke="#e4e6ed" stroke-width="5.2"/>
<ellipse cx="303.3" cy="855.5" rx="24.9" ry="20.9" fill="url(#lowin)" stroke="#e4e6ed" stroke-width="5.2"/>
<ellipse cx="365.0" cy="855.5" rx="24.9" ry="20.9" fill="url(#lowin)" stroke="#e4e6ed" stroke-width="5.2"/>
<ellipse cx="422.2" cy="855.5" rx="24.9" ry="20.9" fill="url(#lowin)" stroke="#e4e6ed" stroke-width="5.2"/>
<ellipse cx="484.5" cy="855.5" rx="24.9" ry="20.9" fill="url(#lowin)" stroke="#e4e6ed" stroke-width="5.2"/>
<ellipse cx="542.7" cy="855.5" rx="24.9" ry="20.9" fill="url(#lowin)" stroke="#e4e6ed" stroke-width="5.2"/>
<ellipse cx="599.4" cy="855.5" rx="24.9" ry="20.9" fill="url(#lowin)" stroke="#e4e6ed" stroke-width="5.2"/>
</g></g>
</svg>
</body></html>
